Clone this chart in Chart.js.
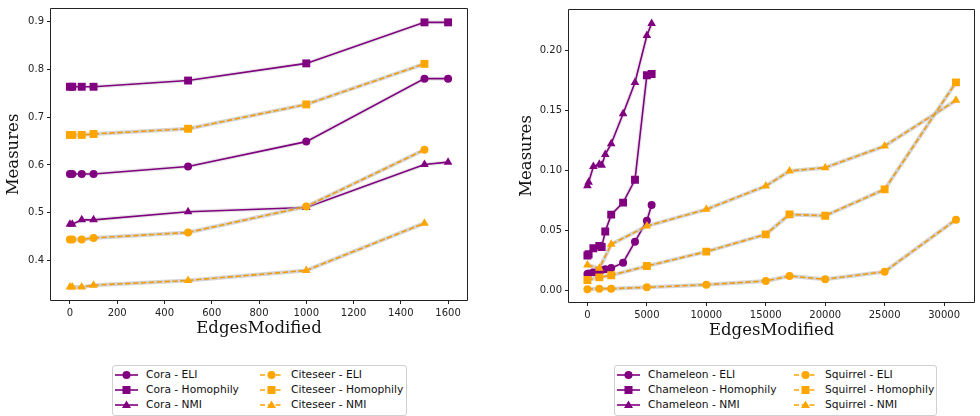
<!DOCTYPE html>
<html>
<head>
<meta charset="utf-8">
<script src="https://cdn.jsdelivr.net/npm/chart.js@4/dist/chart.umd.min.js"></script>
<style>
  html, body { margin: 0; padding: 0; background: #fff; width: 980px; height: 416px; overflow: hidden; }
  #wrapL { position: absolute; left: 0; top: 0; width: 480px; height: 345px; }
  #wrapR { position: absolute; left: 490px; top: 0; width: 490px; height: 345px; }
  .legend { position: absolute; border: 1px solid #d0d0d0; border-radius: 3px; background: #fff;
            font-family: "DejaVu Sans", sans-serif; font-size: 10.7px; color: #111; }
  .item { position: absolute; height: 14px; line-height: 14px; white-space: nowrap; }
  .item svg { position: absolute; left: 0; top: 0; }
  .item span { position: absolute; top: 0; }
</style>
</head>
<body>
<div id="wrapL"><canvas id="left" width="480" height="345"></canvas></div>
<div id="wrapR"><canvas id="right" width="490" height="345"></canvas></div>
<div id="legL" class="legend" style="left:112px; top:365px; width:293px; height:49px;"></div>
<div id="legR" class="legend" style="left:614px; top:365px; width:321px; height:49px;"></div>
<script>
// ---------- data ----------
const coraX = [0, 10, 50, 100, 500, 1000, 1500, 1600];
const coraELI = [0.581, 0.581, 0.581, 0.581, 0.597, 0.649, 0.781, 0.781];
const coraHomophily = [0.764, 0.764, 0.764, 0.764, 0.777, 0.813, 0.899, 0.899];
const coraNMI = [0.476, 0.476, 0.485, 0.485, 0.502, 0.511, 0.601, 0.606];

const citeseerX = [0, 10, 50, 100, 500, 1000, 1500];
const citeseerELI = [0.444, 0.444, 0.444, 0.447, 0.4585, 0.513, 0.632];
const citeseerHomophily = [0.663, 0.663, 0.663, 0.665, 0.676, 0.727, 0.812];
const citeseerNMI = [0.344, 0.344, 0.344, 0.348, 0.358, 0.379, 0.478];

const chameleonX = [0, 100, 500, 1000, 1200, 1500, 2000, 3000, 4000, 5000, 5400];
const chameleonELI = [0.0136, 0.014, 0.015, 0.016, 0.017, 0.0175, 0.0185, 0.023, 0.0405, 0.058, 0.071];
const chameleonHomophily = [0.029, 0.030, 0.035, 0.037, 0.036, 0.049, 0.063, 0.073, 0.092, 0.179, 0.180];
const chameleonNMI = [0.087, 0.090, 0.103, 0.105, 0.104, 0.113, 0.122, 0.147, 0.173, 0.212, 0.222];

const squirrelX = [0, 1000, 2000, 5000, 10000, 15000, 17000, 20000, 25000, 31000];
const squirrelELI = [0.001, 0.0014, 0.0014, 0.0025, 0.0047, 0.0078, 0.0119, 0.0092, 0.0155, 0.0588];
const squirrelHomophily = [0.0086, 0.0108, 0.0125, 0.0202, 0.0322, 0.0466, 0.0632, 0.0621, 0.084, 0.1731];
const squirrelNMI = [0.0211, 0.0183, 0.0383, 0.0535, 0.0674, 0.0868, 0.0993, 0.1021, 0.1201, 0.1581];

const leftXTicks = [0, 200, 400, 600, 800, 1000, 1200, 1400, 1600];
const leftYTicks = [0.4, 0.5, 0.6, 0.7, 0.8, 0.9];
const rightXTicks = [0, 5000, 10000, 15000, 20000, 25000, 30000];
const rightYTicks = [0.00, 0.05, 0.10, 0.15, 0.20];

const leftLegend = ['Cora - ELI', 'Cora - Homophily', 'Cora - NMI', 'Citeseer - ELI', 'Citeseer - Homophily', 'Citeseer - NMI'];
const rightLegend = ['Chameleon - ELI', 'Chameleon - Homophily', 'Chameleon - NMI', 'Squirrel - ELI', 'Squirrel - Homophily', 'Squirrel - NMI'];

// ---------- styling ----------
const PURPLE = '#800080';
const ORANGE = '#FFA500';
const ORANGE_LINE = '#EE9B12';
const SHAPES = ['circle', 'rect', 'triangle'];
const RADII = [4, 5.6, 5];

function pts(xs, ys) { return xs.map((x, i) => ({x: x, y: ys[i]})); }

function makeDataset(label, xs, ys, kind, shapeIdx) {
  const purple = kind === 'p';
  return {
    label: label,
    data: pts(xs, ys),
    borderColor: purple ? PURPLE : ORANGE_LINE,
    backgroundColor: purple ? PURPLE : ORANGE,
    pointBackgroundColor: purple ? PURPLE : ORANGE,
    pointBorderColor: purple ? PURPLE : ORANGE,
    pointBorderWidth: 0,
    pointStyle: SHAPES[shapeIdx],
    pointRadius: RADII[shapeIdx],
    borderWidth: 1.6,
    borderDash: purple ? [] : [5.5, 2.4],
    tension: 0,
    fill: false,
    order: purple ? 2 : 1,
    halo: purple ? 'rgba(200,200,200,0.45)' : 'rgba(185,185,185,0.6)'
  };
}

const haloPlugin = {
  id: 'halo',
  beforeDatasetDraw(chart, args) {
    const ds = chart.data.datasets[args.index];
    const pts = args.meta.data;
    if (!ds.halo || !pts.length) return;
    const ctx = chart.ctx;
    ctx.save();
    ctx.strokeStyle = ds.halo;
    ctx.lineWidth = 4;
    ctx.lineJoin = 'round';
    ctx.lineCap = 'round';
    ctx.beginPath();
    pts.forEach((p, i) => { if (i === 0) ctx.moveTo(p.x, p.y); else ctx.lineTo(p.x, p.y); });
    ctx.stroke();
    ctx.restore();
  }
};

const framePlugin = {
  id: 'frame',
  afterDatasetsDraw(chart) {
    const a = chart.chartArea;
    const ctx = chart.ctx;
    ctx.save();
    ctx.strokeStyle = '#222';
    ctx.lineWidth = 1;
    ctx.beginPath();
    ctx.moveTo(Math.round(a.left) - 0.5, Math.round(a.bottom) + 0.5);
    ctx.lineTo(Math.round(a.left) - 0.5, Math.round(a.top) - 0.5);
    ctx.lineTo(Math.round(a.right) + 0.5, Math.round(a.top) - 0.5);
    ctx.lineTo(Math.round(a.right) + 0.5, Math.round(a.bottom) + 0.5);
    ctx.closePath();
    ctx.stroke();
    ctx.restore();
  }
};

function makeChart(id, datasets, opt) {
  const tickFont = {family: '"DejaVu Sans", sans-serif', size: 10};
  const titleFont = {family: '"DejaVu Serif", serif', size: 16.5};
  return new Chart(document.getElementById(id), {
    type: 'line',
    data: {datasets: datasets},
    plugins: [haloPlugin, framePlugin],
    options: {
      responsive: false,
      animation: false,
      devicePixelRatio: 1,
      layout: {padding: {left: 0, right: opt.padRight, top: opt.padTop, bottom: 0}},
      plugins: {legend: {display: false}, tooltip: {enabled: false}},
      scales: {
        x: {
          type: 'linear',
          min: opt.xMin, max: opt.xMax,
          afterBuildTicks: s => { s.ticks = opt.xTicks.map(v => ({value: v})); },
          afterFit: s => { s.height = opt.xAxisH; },
          grid: {display: true, drawOnChartArea: false, drawTicks: true, tickLength: 4, tickColor: '#222', tickWidth: 1},
          border: {display: false},
          ticks: {font: tickFont, color: '#222', padding: 3, maxRotation: 0, autoSkip: false,
                  callback: v => String(v)},
          title: {display: true, text: 'EdgesModified', font: titleFont, color: '#111',
                  padding: {top: 0, bottom: opt.xTitlePad}}
        },
        y: {
          type: 'linear',
          min: opt.yMin, max: opt.yMax,
          afterBuildTicks: s => { s.ticks = opt.yTicks.map(v => ({value: v})); },
          afterFit: s => { s.width = opt.yAxisW; },
          grid: {display: true, drawOnChartArea: false, drawTicks: true, tickLength: 4, tickColor: '#222', tickWidth: 1},
          border: {display: false},
          ticks: {font: tickFont, color: '#222', padding: 3, autoSkip: false,
                  callback: v => v.toFixed(opt.yDec)},
          title: {display: true, text: 'Measures', font: titleFont, color: '#111',
                  padding: {top: opt.yTitlePad, bottom: 0}}
        }
      }
    }
  });
}

makeChart('left', [
  makeDataset(leftLegend[0], coraX, coraELI, 'p', 0),
  makeDataset(leftLegend[1], coraX, coraHomophily, 'p', 1),
  makeDataset(leftLegend[2], coraX, coraNMI, 'p', 2),
  makeDataset(leftLegend[3], citeseerX, citeseerELI, 'o', 0),
  makeDataset(leftLegend[4], citeseerX, citeseerHomophily, 'o', 1),
  makeDataset(leftLegend[5], citeseerX, citeseerNMI, 'o', 2)
], {xMin: -80, xMax: 1680, yMin: 0.317, yMax: 0.927, xTicks: leftXTicks, yTicks: leftYTicks,
    yDec: 1, padRight: 13, padTop: 4, xAxisH: 45, yAxisW: 51, xTitlePad: 6.1, yTitlePad: 4.1});

makeChart('right', [
  makeDataset(rightLegend[0], chameleonX, chameleonELI, 'p', 0),
  makeDataset(rightLegend[1], chameleonX, chameleonHomophily, 'p', 1),
  makeDataset(rightLegend[2], chameleonX, chameleonNMI, 'p', 2),
  makeDataset(rightLegend[3], squirrelX, squirrelELI, 'o', 0),
  makeDataset(rightLegend[4], squirrelX, squirrelHomophily, 'o', 1),
  makeDataset(rightLegend[5], squirrelX, squirrelNMI, 'o', 2)
], {xMin: -1550, xMax: 32550, yMin: -0.0097, yMax: 0.2333, xTicks: rightXTicks, yTicks: rightYTicks,
    yDec: 2, padRight: 0, padTop: 10, xAxisH: 43, yAxisW: 79, xTitlePad: 4.1, yTitlePad: 26.8});

// ---------- HTML legends ----------
function symbolSVG(kind, shapeIdx) {
  const purple = kind === 'p';
  const col = purple ? PURPLE : ORANGE;
  const line = purple
    ? `<line x1="0" y1="7" x2="23" y2="7" stroke="${col}" stroke-width="1.6"/>`
    : `<line x1="0" y1="7" x2="23" y2="7" stroke="${col}" stroke-width="1.6" stroke-dasharray="5,2.8"/>`;
  let m;
  if (shapeIdx === 0) m = `<circle cx="11.5" cy="7" r="4" fill="${col}"/>`;
  else if (shapeIdx === 1) m = `<rect x="7.5" y="3" width="8" height="8" fill="${col}"/>`;
  else m = `<polygon points="11.5,2.6 16,10 7,10" fill="${col}"/>`;
  return `<svg width="24" height="14" viewBox="0 0 24 14">${line}${m}</svg>`;
}

function buildLegend(id, labels, col2Left, textOff) {
  const el = document.getElementById(id);
  labels.forEach((lab, i) => {
    const col = i < 3 ? 0 : 1;
    const row = i % 3;
    const div = document.createElement('div');
    div.className = 'item';
    div.style.left = (col === 0 ? 2 : col2Left) + 'px';
    div.style.top = (2 + row * 15) + 'px';
    div.innerHTML = symbolSVG(col === 0 ? 'p' : 'o', row) + `<span style="left:${textOff}px">${lab}</span>`;
    el.appendChild(div);
  });
}
buildLegend('legL', leftLegend, 147, 31);
buildLegend('legR', rightLegend, 179, 31);
</script>
</body>
</html>
